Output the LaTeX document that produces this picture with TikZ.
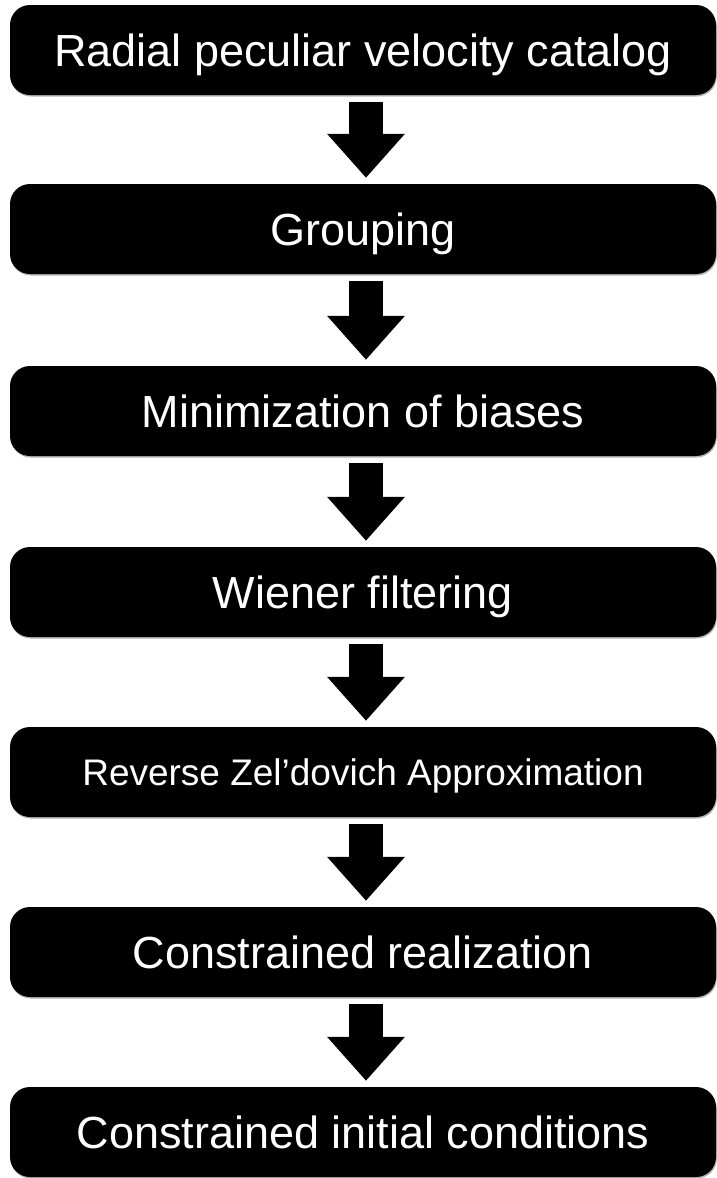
\documentclass[tikz,border=0pt]{standalone}
\usepackage{fontspec}
\setmainfont{Liberation Sans}
\usetikzlibrary{arrows.meta,shadows}

\tikzset{
  stage/.style={
    fill=black, text=white, rounded corners=20pt,
    minimum width=706pt, minimum height=90pt, inner sep=0pt,
    text height=32pt, text depth=0pt,
    font=\fontsize{45}{50}\selectfont,
    drop shadow={shadow xshift=0.8pt, shadow yshift=-1.5pt, opacity=0.3, fill=black}
  },
  smallstage/.style={stage, text height=26pt, font=\fontsize{37}{42}\selectfont},
  flow/.style={
    line width=34pt, line cap=butt, black,
    -{Triangle[width=75pt,length=44pt]}
  }
}

\begin{document}
\begin{tikzpicture}[x=1pt,y=-1pt]
  \useasboundingbox (0,0) rectangle (717,1178);

  % processing stages, top to bottom
  \node[stage]      (s1) at (363,50)   {Radial peculiar velocity catalog};
  \node[stage]      (s2) at (363,229)  {Grouping};
  \node[stage]      (s3) at (363,411)  {Minimization of biases};
  \node[stage]      (s4) at (363,592)  {Wiener filtering};
  \node[smallstage] (s5) at (363,772)  {Reverse Zel’dovich Approximation};
  \node[stage]      (s6) at (363,952)  {Constrained realization};
  \node[stage]      (s7) at (363,1132) {Constrained initial conditions};

  % block arrows between consecutive stages
  \foreach \a/\b in {s1/s2,s2/s3,s3/s4,s4/s5,s5/s6,s6/s7}{
    \draw[flow] ([xshift=3pt,yshift=-7pt]\a.south) -- ([xshift=3pt,yshift=6pt]\b.north);
  }
\end{tikzpicture}
\end{document}
